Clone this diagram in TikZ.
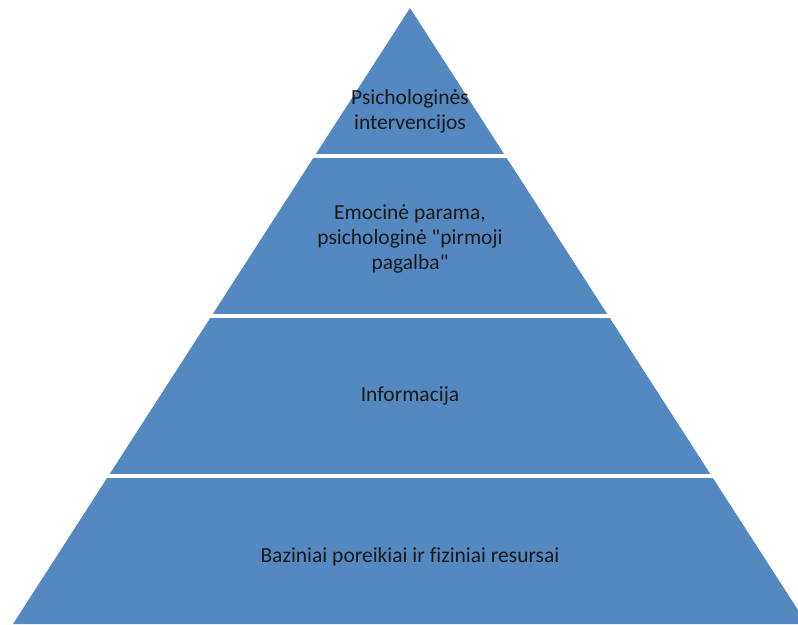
\documentclass[tikz,border=0pt]{standalone}
\usepackage{fontspec}
\setmainfont[Ligatures={TeX,NoCommon}]{Carlito}
\definecolor{pyrblue}{RGB}{83,136,193}
\begin{document}
\begin{tikzpicture}[x=1pt,y=-1pt,
  layertext/.style={align=center,text=black!90,font=\fontsize{21.5}{25}\selectfont,inner sep=0pt}]
\useasboundingbox (0,0) rectangle (798,624);
\begin{scope}
\clip (410,8) -- (13,624) -- (807,624) -- cycle;
\fill[pyrblue] (0,0) rectangle (798,153.5);
\fill[pyrblue] (0,157.5) rectangle (798,313.5);
\fill[pyrblue] (0,317.5) rectangle (798,473.5);
\fill[pyrblue] (0,477.5) rectangle (798,630);
\end{scope}
\node[layertext] (l1) at (410,111) {Psichologinės\\intervencijos};
\node[layertext] (l2) at (410,239) {Emocinė parama,\\psichologinė \textquotedbl pirmoji\\pagalba\textquotedbl};
\node[layertext] (l3) at (410,396) {Informacija};
\node[layertext] (l4) at (410,556.5) {Baziniai poreikiai ir fiziniai resursai};
\end{tikzpicture}
\end{document}
